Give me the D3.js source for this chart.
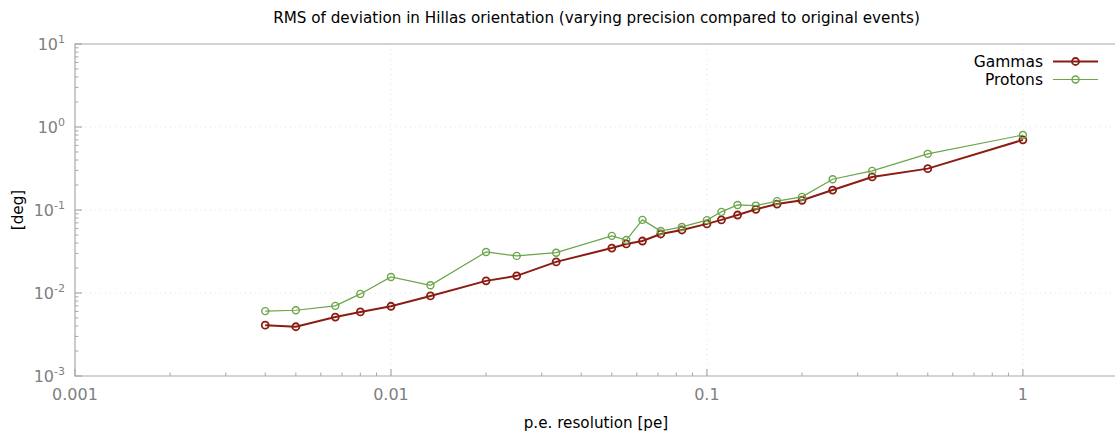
<!DOCTYPE html>
<html lang="en">

<head>
    <meta charset="UTF-8">
    <title>RMS of deviation in Hillas orientation</title>
    <style>
        body { margin: 0; background: #fff; }
        svg { display: block; font-family: "DejaVu Sans", sans-serif; }
    </style>
</head>

<body>
    <svg id="chart" width="1115" height="437"></svg>
    <script src="https://cdn.jsdelivr.net/npm/d3@7"></script>
    <script>
        // p.e. resolution = 1/N
        var resolution = [1/250, 1/200, 1/150, 1/125, 1/100, 1/75, 1/50, 1/40, 1/30, 1/20, 1/18, 1/16,
            1/14, 1/12, 1/10, 1/9, 1/8, 1/7, 1/6, 1/5, 1/4, 1/3, 1/2, 1];
        var gammas = [0.00410, 0.00392, 0.00513, 0.00591, 0.00692, 0.00922, 0.01400, 0.01610, 0.02370,
            0.03480, 0.03900, 0.04230, 0.05140, 0.05740, 0.06800, 0.07600, 0.08700, 0.10200,
            0.11800, 0.13100, 0.17400, 0.25000, 0.31500, 0.70000];
        var protons = [0.00605, 0.00620, 0.00700, 0.00975, 0.01560, 0.01240, 0.03120, 0.02800, 0.03060,
            0.04880, 0.04350, 0.07600, 0.05580, 0.06250, 0.07550, 0.09500, 0.11500, 0.11300,
            0.12800, 0.14400, 0.23500, 0.29600, 0.47500, 0.80000];
        var xTicks = [0.001, 0.01, 0.1, 1];
        var xTickLabels = ["0.001", "0.01", "0.1", "1"];
        var yTicks = [1e-3, 1e-2, 1e-1, 1e0, 1e1];
        var yTickExp = ["-3", "-2", "-1", "0", "1"];

        var svg = d3.select("#chart");
        var plotL = 75, plotR = 1118, plotT = 44, plotB = 376;
        var axisColor = "#a8a8a8", labelColor = "#808080";

        var x = d3.scaleLog().domain([0.001, 2]).range([plotL, plotR]);
        var y = d3.scaleLog().domain([1e-3, 1e1]).range([plotB, plotT]);

        // minor ticks
        var xMinor = [], yMinor = [];
        [0.001, 0.01, 0.1, 1].forEach(function (d) {
            for (var k = 2; k <= 9; k++) if (d * k <= 2) xMinor.push(d * k);
        });
        [1e-3, 1e-2, 1e-1, 1e0].forEach(function (d) {
            for (var k = 2; k <= 9; k++) yMinor.push(d * k);
        });

        // grid
        var grid = svg.append("g").attr("stroke", "#e2e2e2").attr("stroke-dasharray", "1,4");
        grid.selectAll(".gx").data(xTicks.slice(1)).enter().append("line")
            .attr("x1", function (d) { return x(d); }).attr("x2", function (d) { return x(d); })
            .attr("y1", plotT).attr("y2", plotB);
        grid.selectAll(".gy").data(yTicks.slice(1, -1)).enter().append("line")
            .attr("x1", plotL).attr("x2", plotR)
            .attr("y1", function (d) { return y(d); }).attr("y2", function (d) { return y(d); });

        // axes frame
        var ax = svg.append("g").attr("stroke", axisColor).attr("stroke-width", 1.2).attr("fill", "none");
        ax.append("path").attr("d", "M" + plotR + "," + plotT + "H" + plotL + "V" + plotB + "H" + plotR);

        ax.selectAll(".xt").data(xTicks).enter().append("line")
            .attr("x1", function (d) { return x(d); }).attr("x2", function (d) { return x(d); })
            .attr("y1", plotB).attr("y2", plotB - 7);
        ax.selectAll(".xm").data(xMinor).enter().append("line")
            .attr("x1", function (d) { return x(d); }).attr("x2", function (d) { return x(d); })
            .attr("y1", plotB).attr("y2", plotB - 3.5).attr("stroke-width", 1);
        ax.selectAll(".yt").data(yTicks).enter().append("line")
            .attr("x1", plotL).attr("x2", plotL + 7)
            .attr("y1", function (d) { return y(d); }).attr("y2", function (d) { return y(d); });
        ax.selectAll(".ym").data(yMinor).enter().append("line")
            .attr("x1", plotL).attr("x2", plotL + 3.5)
            .attr("y1", function (d) { return y(d); }).attr("y2", function (d) { return y(d); })
            .attr("stroke-width", 1);

        // tick labels
        svg.selectAll(".xl").data(xTicks).enter().append("text")
            .attr("x", function (d) { return x(d); }).attr("y", plotB + 24)
            .attr("text-anchor", "middle").attr("fill", labelColor).attr("font-size", 16)
            .text(function (d, i) { return xTickLabels[i]; });

        var yl = svg.selectAll(".yl").data(yTicks).enter().append("text")
            .attr("x", plotL - 10).attr("y", function (d) { return y(d) + 6; })
            .attr("text-anchor", "end").attr("fill", labelColor).attr("font-size", 16);
        yl.append("tspan").text("10");
        yl.append("tspan").attr("font-size", 11).attr("dy", -7).text(function (d, i) { return yTickExp[i]; });

        // titles
        svg.append("text").attr("x", 596.5).attr("y", 23).attr("text-anchor", "middle")
            .attr("font-size", 15.2).attr("fill", "#000")
            .text("RMS of deviation in Hillas orientation (varying precision compared to original events)");
        svg.append("text").attr("x", 596).attr("y", 428).attr("text-anchor", "middle")
            .attr("font-size", 15.2).attr("fill", "#000").text("p.e. resolution [pe]");
        svg.append("text").attr("transform", "translate(23,210) rotate(-90)").attr("text-anchor", "middle")
            .attr("font-size", 15.2).attr("fill", "#000").text("[deg]");

        // series
        var series = [
            { name: "Gammas", values: gammas, color: "#8b1c12", width: 2, legendY: 61.5 },
            { name: "Protons", values: protons, color: "#6aa548", width: 1.2, legendY: 79.5 }
        ];
        var line = d3.line()
            .x(function (d) { return x(d[0]); })
            .y(function (d) { return y(d[1]); });

        series.forEach(function (s) {
            var pts = resolution.map(function (r, i) { return [r, s.values[i]]; });
            var g = svg.append("g");
            g.append("path").attr("d", line(pts)).attr("fill", "none")
                .attr("stroke", s.color).attr("stroke-width", s.width);
            g.selectAll("circle").data(pts).enter().append("circle")
                .attr("cx", function (d) { return x(d[0]); })
                .attr("cy", function (d) { return y(d[1]); })
                .attr("r", 3.5).attr("fill", "none")
                .attr("stroke", s.color).attr("stroke-width", s.width > 1.5 ? 1.8 : 1.4);

            // legend
            svg.append("text").attr("x", 1043).attr("y", s.legendY + 5.5).attr("text-anchor", "end")
                .attr("font-size", 15.5).attr("fill", "#000").text(s.name);
            svg.append("line").attr("x1", 1053).attr("x2", 1098)
                .attr("y1", s.legendY).attr("y2", s.legendY)
                .attr("stroke", s.color).attr("stroke-width", s.width);
            svg.append("circle").attr("cx", 1075.5).attr("cy", s.legendY).attr("r", 3.5)
                .attr("fill", "none").attr("stroke", s.color).attr("stroke-width", s.width > 1.5 ? 1.8 : 1.4);
        });
    </script>
</body>

</html>
